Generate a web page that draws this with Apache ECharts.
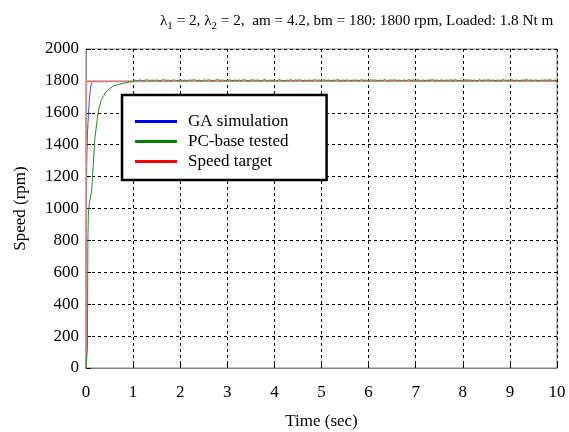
<!DOCTYPE html>
<html>
<head>
<meta charset="utf-8">
<script src="https://cdn.jsdelivr.net/npm/echarts@6/dist/echarts.min.js"></script>
<style>html,body{margin:0;padding:0;background:#fff}#c{width:569px;height:432px}</style>
</head>
<body>
<div id="c"></div>
<script>
const FONT = "'Liberation Serif','Times New Roman',serif";
const xTicks = [0,1,2,3,4,5,6,7,8,9,10];
const yTicks = [0,200,400,600,800,1000,1200,1400,1600,1800,2000];
const targetTime = [0, 0, 10];
const targetSpeed = [0, 1800, 1800];
const gaTime = [0, 0.005, 0.01, 0.02, 0.03, 0.05, 0.07, 0.09, 0.11, 0.13, 0.16, 10];
const gaSpeed = [0, 700, 1200, 1350, 1460, 1580, 1680, 1740, 1780, 1795, 1800, 1800];
const pcTime = [0, 0.02, 0.03, 0.035, 0.04, 0.05, 0.07, 0.1, 0.12, 0.155, 0.19, 0.26, 0.33, 0.44, 0.58, 0.79, 0.97];
const pcSpeed = [0, 0, 120, 450, 800, 960, 1030, 1080, 1110, 1280, 1444, 1611, 1685, 1737, 1768, 1785, 1795];
const pcSteadyStart = 1.0, pcSteadyStep = 0.05;
const pcSteady = [
1803,1805,1801,1806,1802,1804,1807,1802,1805,1803,1806,1801,1804,1808,1803,1805,1802,1806,1804,1801,
1807,1803,1805,1802,1806,1804,1808,1802,1805,1801,1806,1803,1807,1804,1802,1805,1808,1803,1806,1801,
1804,1807,1802,1805,1803,1806,1801,1808,1804,1802,1805,1807,1803,1806,1802,1804,1808,1801,1805,1803,
1806,1802,1807,1804,1801,1805,1803,1808,1802,1806,1804,1807,1801,1805,1803,1806,1802,1808,1804,1805,
1801,1807,1803,1806,1802,1805,1804,1808,1801,1806,1803,1807,1802,1805,1804,1806,1801,1808,1803,1805,
1802,1807,1804,1806,1801,1805,1803,1808,1802,1806,1804,1807,1803,1805,1801,1806,1802,1808,1804,1805,
1803,1807,1801,1806,1802,1805,1804,1808,1803,1806,1801,1807,1802,1805,1804,1806,1803,1808,1801,1805,
1802,1807,1804,1806,1803,1805,1801,1808,1802,1806,1804,1807,1803,1805,1802,1806,1801,1808,1804,1805,
1803,1807,1802,1806,1801,1805,1804,1808,1803,1806,1802,1807,1801,1805,1804,1806,1803,1808,1802,1805,1801
];

const zip = (a, b) => a.map((v, i) => [v, b[i]]);
const pcData = zip(pcTime, pcSpeed).concat(pcSteady.map((v, i) => [pcSteadyStart + i * pcSteadyStep, v]));

const chart = echarts.init(document.getElementById('c'), null, {renderer: 'canvas'});
chart.setOption({
  animation: false,
  backgroundColor: '#fff',
  title: {
    left: 155, top: 5,
    text: '{a|λ}{s|1}{a| = 2, λ}{s|2}{a| = 2,  am = 4.2, bm = 180: 1800 rpm, Loaded: 1.8 Nt m}',
    textStyle: {
      fontWeight: 'normal',
      rich: {
        a: {fontFamily: FONT, fontSize: 15.2, fontWeight: 'normal', color: '#000', lineHeight: 22, verticalAlign: 'middle'},
        s: {fontFamily: FONT, fontSize: 11, fontWeight: 'normal', color: '#000', lineHeight: 22, verticalAlign: 'bottom'}
      }
    }
  },
  grid: {left: 86, right: 12, top: 49, bottom: 64, show: true, borderColor: '#808080', borderWidth: 1,
         containLabel: false, outerBoundsMode: 'none'},
  legend: {
    orient: 'vertical', left: 122, top: 95,
    backgroundColor: '#fff', borderColor: '#000', borderWidth: 2.5,
    padding: [18, 38, 10, 13],
    itemWidth: 42, itemHeight: 3, itemGap: 3, icon: 'rect',
    textStyle: {fontFamily: FONT, fontSize: 17, color: '#000', lineHeight: 17, padding: [0, 0, 0, 6]},
    data: [
      {name: 'GA simulation', itemStyle: {color: '#0000ff'}},
      {name: 'PC-base tested', itemStyle: {color: '#008000'}},
      {name: 'Speed target', itemStyle: {color: '#ff0000'}}
    ]
  },
  xAxis: {
    type: 'value', min: 0, max: 10, interval: 1,
    name: 'Time (sec)', nameLocation: 'middle', nameGap: 45,
    nameTextStyle: {fontFamily: FONT, fontSize: 17, color: '#000'},
    axisLine: {show: true, lineStyle: {color: '#808080'}},
    axisTick: {show: true, inside: true, length: 5, lineStyle: {color: '#000'}},
    axisLabel: {fontFamily: FONT, fontSize: 17, color: '#000', margin: 16, formatter: v => String(v)},
    splitLine: {show: true, lineStyle: {color: '#000', type: [3, 3], width: 1}}
  },
  yAxis: {
    type: 'value', min: 0, max: 2000, interval: 200,
    name: 'Speed (rpm)', nameLocation: 'middle', nameGap: 57,
    nameTextStyle: {fontFamily: FONT, fontSize: 17, color: '#000'},
    axisLine: {show: true, lineStyle: {color: '#808080'}},
    axisTick: {show: true, inside: true, length: 5, lineStyle: {color: '#000'}},
    axisLabel: {fontFamily: FONT, fontSize: 17, color: '#000', margin: 7, formatter: v => String(v)},
    splitLine: {show: true, lineStyle: {color: '#000', type: [3, 3], width: 1}}
  },
  series: [
    {name: 'GA simulation', type: 'line', data: zip(gaTime, gaSpeed), showSymbol: false, symbol: 'none',
     lineStyle: {color: '#3050ff', width: 1}, itemStyle: {color: '#0000ff'}, z: 2},
    {name: 'Speed target', type: 'line', data: zip(targetTime, targetSpeed), showSymbol: false, symbol: 'none',
     lineStyle: {color: '#ff9070', width: 1.5}, itemStyle: {color: '#ff0000'}, z: 3},
    {name: 'PC-base tested', type: 'line', data: pcData, showSymbol: false, symbol: 'none',
     lineStyle: {color: '#2a8a2a', width: 1}, itemStyle: {color: '#008000'}, z: 4}
  ]
});
</script>
</body>
</html>
